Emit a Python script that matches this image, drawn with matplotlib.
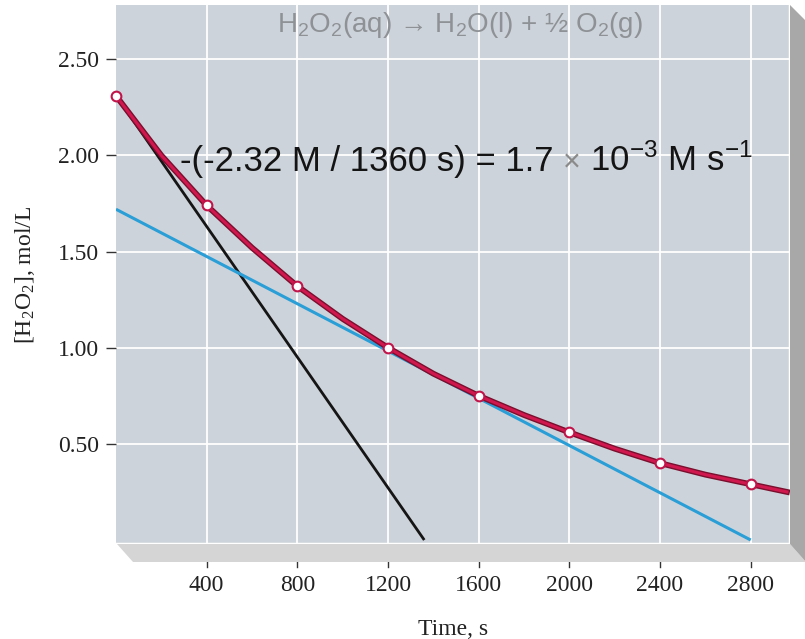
import matplotlib
matplotlib.use("Agg")
import matplotlib.pyplot as plt
from matplotlib.patches import Polygon

plt.rcParams['mathtext.fontset'] = 'custom'
plt.rcParams['mathtext.rm'] = 'Liberation Sans'
plt.rcParams['mathtext.it'] = 'Liberation Sans'

# Data
meas_t = [0, 400, 800, 1200, 1600, 2000, 2400, 2800]
meas_c = [2.31, 1.74, 1.32, 1.00, 0.75, 0.56, 0.40, 0.29]
curve_t = [0, 200, 400, 600, 800, 1000, 1200, 1400, 1600, 1800, 2000, 2200, 2400, 2600, 2800, 2960]
curve_c = [2.31, 2.00, 1.74, 1.52, 1.32, 1.15, 1.00, 0.865, 0.75, 0.65, 0.56, 0.475, 0.40, 0.34, 0.29, 0.25]
tan0_t = [0, 1360]
tan0_c = [2.31, 0.0]
tan1200_t = [0, 2800]
tan1200_c = [1.72, 0.0]
xticks = [400, 800, 1200, 1600, 2000, 2400, 2800]
yticks = [0.50, 1.00, 1.50, 2.00, 2.50]
ytick_labels = ["0.50", "1.00", "1.50", "2.00", "2.50"]

W, H = 805, 639
fig = plt.figure(figsize=(W / 100, H / 100), dpi=100)

def fx(px):
    return px / W

def fy(py):
    return 1 - py / H

# 3D decorations (floor and right wall)
shelf = Polygon([(fx(117), fy(544)), (fx(790), fy(544)), (fx(806), fy(562)), (fx(133), fy(562))],
                closed=True, transform=fig.transFigure, facecolor='#d5d5d5', edgecolor='none', zorder=0)
wall = Polygon([(fx(790), fy(5)), (fx(806), fy(21)), (fx(806), fy(562)), (fx(790), fy(544))],
               closed=True, transform=fig.transFigure, facecolor='#a8a8a8', edgecolor='none', zorder=0)
fig.patches.extend([shelf, wall])

left, right, top, bottom = 116, 790, 5, 544
ax = fig.add_axes([fx(left), fy(bottom), fx(right - left), (bottom - top) / H])
ax.set_facecolor('#cdd3da')
ax.set_xlim(0, (right - left) / 0.22667)
ax.set_ylim(-(bottom - 540) / 192.3, (540 - top) / 192.3)

ax.set_xticks(xticks)
ax.set_yticks(yticks)
ax.set_yticklabels(ytick_labels)
ax.grid(True, color='white', linewidth=1.3)
ax.set_axisbelow(True)

for s in ['top', 'left']:
    ax.spines[s].set_visible(False)
ax.spines['right'].set_color('white')
ax.spines['right'].set_linewidth(2.5)
ax.spines['bottom'].set_color('white')
ax.spines['bottom'].set_linewidth(2.5)

serif = ['Liberation Serif', 'DejaVu Serif']
ax.tick_params(axis='y', direction='out', length=7, width=1, color='#333333', pad=5,
               labelsize=17, labelcolor='#222222')
ax.tick_params(axis='x', direction='out', length=0, pad=22, labelsize=17, labelcolor='#222222')
for lab in ax.get_xticklabels() + ax.get_yticklabels():
    lab.set_fontfamily(serif)

# x tick marks below the floor
for t in xticks:
    ax.plot([t, t], [-(553 - 540) / 192.3, -(567 - 540) / 192.3], color='#333333', lw=1,
            clip_on=False, zorder=1)

ax.set_xlabel("Time, s", fontsize=17, family=serif, color='#222222', labelpad=17)
ax.set_ylabel(r"[H$_\mathregular{2}$O$_\mathregular{2}$], mol/L", fontsize=17, family=serif,
              color='#222222', labelpad=15)

# Lines
ax.plot(tan0_t, tan0_c, color='#151515', lw=2, zorder=3, clip_on=False, solid_capstyle='butt')
ax.plot(tan1200_t, tan1200_c, color='#2a9ed6', lw=2.2, zorder=3, solid_capstyle='butt')
ax.plot(curve_t, curve_c, color='#7a0f2e', lw=4.2, zorder=4, clip_on=False, solid_joinstyle='round')
ax.plot(curve_t, curve_c, color='#d0184e', lw=2.2, zorder=5, clip_on=False, solid_joinstyle='round')
ax.plot(meas_t, meas_c, linestyle='none', marker='o', markersize=7, markerfacecolor='white',
        markeredgecolor='#c0144a', markeredgewidth=1.5, zorder=6, clip_on=False)

# Texts
ax.text(0.51, 0.962, r"H$_\mathregular{2}$O$_\mathregular{2}$(aq) → H$_\mathregular{2}$O(l) + ½ O$_\mathregular{2}$(g)",
        transform=ax.transAxes, ha='center', va='center', fontsize=20, color='#8e9296',
        family=['Liberation Sans Narrow', 'Liberation Sans', 'DejaVu Sans'])

t1 = ax.text(fx(180 - left) / fx(right - left), 0, "-(-2.32 M / 1360 s) = 1.7 ",
             transform=ax.transAxes, fontsize=25, color='#141414', family='Liberation Sans',
             ha='left', va='baseline')
t1.set_y((540 - 171) / (bottom - top) + (bottom - 540) / (bottom - top))
t2 = ax.annotate("×", xy=(1, 0), xycoords=t1, fontsize=22, color='#8a8a8a',
                 family='Liberation Sans', ha='left', va='bottom')
t3 = ax.annotate(r" 10$^{\mathregular{-3}}$ M s$^{\mathregular{-1}}$", xy=(1, 0), xycoords=t2,
                 xytext=(0, 0), textcoords='offset points', fontsize=25, color='#141414',
                 family='Liberation Sans', ha='left', va='bottom')

fig.savefig("out.png", dpi=100)
